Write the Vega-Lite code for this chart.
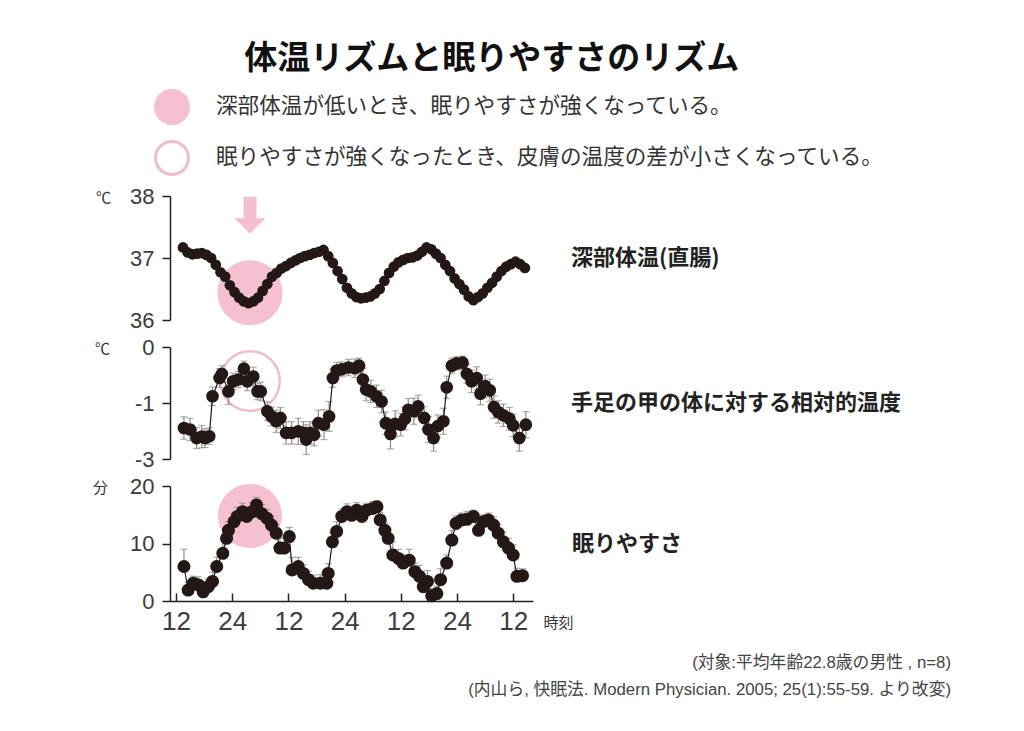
{
  "$schema": "https://vega.github.io/schema/vega-lite/v6.json",
  "background": "white",
  "padding": {"left": 92, "top": 43, "right": 10, "bottom": 10},
  "config": {
    "view": {"stroke": null},
    "font": "Noto Sans CJK JP",
    "axis": {
      "domainColor": "#222", "domainWidth": 1.5, "tickColor": "#222", "tickWidth": 1.5, "tickSize": 8,
      "labelFont": "Liberation Sans", "labelFontSize": 22, "labelColor": "#3c3c3c", "labelPadding": 8,
      "labelOverlap": false, "labelFlush": false, "labelBound": false,
      "grid": false, "titleFont": "Noto Sans CJK JP", "titleFontSize": 15, "titleFontWeight": "normal", "titleColor": "#333"
    }
  },
  "datasets": {
    "temp": [
      {"hour":13.5,"value":37.17},{"hour":14.5,"value":37.09},{"hour":15.5,"value":37.06},{"hour":16.5,"value":37.07},{"hour":17.5,"value":37.08},{"hour":18.5,"value":37.05},{"hour":19.5,"value":37.0},{"hour":20.5,"value":36.89},{"hour":21.5,"value":36.77},{"hour":22.5,"value":36.7},{"hour":23.5,"value":36.56},{"hour":24.5,"value":36.45},{"hour":25.5,"value":36.36},{"hour":26.5,"value":36.3},{"hour":27.5,"value":36.27},{"hour":28.5,"value":36.3},{"hour":29.5,"value":36.36},{"hour":30.5,"value":36.47},{"hour":31.5,"value":36.58},{"hour":32.5,"value":36.7},{"hour":33.5,"value":36.76},{"hour":34.5,"value":36.83},{"hour":35.5,"value":36.87},{"hour":36.5,"value":36.92},{"hour":37.5,"value":36.96},{"hour":38.5,"value":37.0},{"hour":39.5,"value":37.03},{"hour":40.5,"value":37.05},{"hour":41.5,"value":37.08},{"hour":42.5,"value":37.1},{"hour":43.5,"value":37.13},{"hour":44.5,"value":37.03},{"hour":45.5,"value":36.92},{"hour":46.5,"value":36.79},{"hour":47.5,"value":36.66},{"hour":48.5,"value":36.52},{"hour":49.5,"value":36.43},{"hour":50.5,"value":36.37},{"hour":51.5,"value":36.35},{"hour":52.5,"value":36.36},{"hour":53.5,"value":36.38},{"hour":54.5,"value":36.43},{"hour":55.5,"value":36.5},{"hour":56.5,"value":36.63},{"hour":57.5,"value":36.76},{"hour":58.5,"value":36.86},{"hour":59.5,"value":36.93},{"hour":60.5,"value":36.97},{"hour":61.5,"value":37.0},{"hour":62.5,"value":37.01},{"hour":63.5,"value":37.04},{"hour":64.5,"value":37.1},{"hour":65.5,"value":37.17},{"hour":66.5,"value":37.14},{"hour":67.5,"value":37.07},{"hour":68.5,"value":37.0},{"hour":69.5,"value":36.89},{"hour":70.5,"value":36.79},{"hour":71.5,"value":36.67},{"hour":72.5,"value":36.58},{"hour":73.5,"value":36.49},{"hour":74.5,"value":36.38},{"hour":75.5,"value":36.32},{"hour":76.5,"value":36.37},{"hour":77.5,"value":36.43},{"hour":78.5,"value":36.52},{"hour":79.5,"value":36.6},{"hour":80.5,"value":36.7},{"hour":81.5,"value":36.79},{"hour":82.5,"value":36.86},{"hour":83.5,"value":36.9},{"hour":84.5,"value":36.94},{"hour":85.5,"value":36.9},{"hour":86.5,"value":36.84}
    ],
    "skin": [
      {"hour":13.7,"value":-2.17,"err":0.3},{"hour":15.0,"value":-2.21,"err":0.3},{"hour":16.4,"value":-2.44,"err":0.28},{"hour":17.5,"value":-2.4,"err":0.3},{"hour":18.2,"value":-2.44,"err":0.25},{"hour":19.1,"value":-2.39,"err":0.22},{"hour":19.8,"value":-1.32,"err":0.25},{"hour":21.3,"value":-0.83,"err":0.25},{"hour":21.8,"value":-0.72,"err":0.22},{"hour":23.2,"value":-1.19,"err":0.35},{"hour":24.2,"value":-0.92,"err":0.22},{"hour":25.3,"value":-0.87,"err":0.22},{"hour":26.5,"value":-0.58,"err":0.2},{"hour":27.2,"value":-0.92,"err":0.25},{"hour":28.5,"value":-0.79,"err":0.25},{"hour":29.4,"value":-1.19,"err":0.22},{"hour":30.1,"value":-1.19,"err":0.25},{"hour":31.5,"value":-1.72,"err":0.25},{"hour":32.4,"value":-1.86,"err":0.25},{"hour":33.4,"value":-1.99,"err":0.3},{"hour":34.3,"value":-1.9,"err":0.28},{"hour":35.5,"value":-2.3,"err":0.3},{"hour":36.7,"value":-2.3,"err":0.3},{"hour":38.1,"value":-2.26,"err":0.35},{"hour":39.2,"value":-2.3,"err":0.3},{"hour":39.8,"value":-2.48,"err":0.4},{"hour":40.6,"value":-2.3,"err":0.3},{"hour":41.5,"value":-2.35,"err":0.3},{"hour":42.4,"value":-2.04,"err":0.35},{"hour":43.6,"value":-2.08,"err":0.4},{"hour":44.7,"value":-1.86,"err":0.4},{"hour":45.5,"value":-0.83,"err":0.25},{"hour":46.3,"value":-0.63,"err":0.22},{"hour":47.4,"value":-0.6,"err":0.2},{"hour":48.8,"value":-0.55,"err":0.22},{"hour":50.2,"value":-0.57,"err":0.25},{"hour":51.1,"value":-0.5,"err":0.2},{"hour":51.9,"value":-0.87,"err":0.3},{"hour":52.6,"value":-1.14,"err":0.3},{"hour":53.6,"value":-1.19,"err":0.3},{"hour":54.8,"value":-1.32,"err":0.3},{"hour":55.9,"value":-1.46,"err":0.3},{"hour":56.8,"value":-2.04,"err":0.3},{"hour":57.8,"value":-2.33,"err":0.4},{"hour":58.8,"value":-2.06,"err":0.35},{"hour":60.0,"value":-2.08,"err":0.3},{"hour":60.9,"value":-1.92,"err":0.3},{"hour":61.6,"value":-1.68,"err":0.3},{"hour":62.8,"value":-1.72,"err":0.35},{"hour":63.7,"value":-1.59,"err":0.3},{"hour":65.0,"value":-1.9,"err":0.3},{"hour":65.9,"value":-2.21,"err":0.35},{"hour":67.0,"value":-2.44,"err":0.35},{"hour":67.9,"value":-2.12,"err":0.3},{"hour":69.1,"value":-1.99,"err":0.35},{"hour":69.8,"value":-1.08,"err":0.3},{"hour":70.9,"value":-0.5,"err":0.2},{"hour":71.9,"value":-0.44,"err":0.18},{"hour":73.2,"value":-0.42,"err":0.18},{"hour":74.1,"value":-0.72,"err":0.25},{"hour":75.1,"value":-0.92,"err":0.3},{"hour":76.2,"value":-0.83,"err":0.3},{"hour":77.0,"value":-1.25,"err":0.3},{"hour":78.0,"value":-1.05,"err":0.3},{"hour":79.0,"value":-1.16,"err":0.3},{"hour":79.9,"value":-1.61,"err":0.3},{"hour":80.8,"value":-1.74,"err":0.3},{"hour":81.9,"value":-1.83,"err":0.3},{"hour":83.2,"value":-1.92,"err":0.3},{"hour":84.0,"value":-2.1,"err":0.3},{"hour":85.3,"value":-2.44,"err":0.35},{"hour":86.7,"value":-2.08,"err":0.35}
    ],
    "sleep": [
      {"hour":13.7,"value":6.0,"hi":9.0},{"hour":14.6,"value":1.9,"hi":3.2},{"hour":15.7,"value":3.1,"hi":4.3},{"hour":16.8,"value":2.8,"hi":4.2},{"hour":17.8,"value":1.6,"hi":2.8},{"hour":18.9,"value":2.5,"hi":3.8},{"hour":19.8,"value":3.4,"hi":5.0},{"hour":20.7,"value":6.0,"hi":7.6},{"hour":22.0,"value":8.3,"hi":10.6},{"hour":22.8,"value":10.9,"hi":12.5},{"hour":23.2,"value":12.3,"hi":13.8},{"hour":24.4,"value":13.8,"hi":15.3},{"hour":25.1,"value":14.7,"hi":16.3},{"hour":26.2,"value":15.5,"hi":17.0},{"hour":27.1,"value":14.7,"hi":16.4},{"hour":28.2,"value":15.5,"hi":17.1},{"hour":29.2,"value":16.7,"hi":18.0},{"hour":30.3,"value":15.2,"hi":16.8},{"hour":31.4,"value":14.4,"hi":15.9},{"hour":32.4,"value":13.2,"hi":14.8},{"hour":33.4,"value":11.8,"hi":13.2},{"hour":34.2,"value":9.2,"hi":11.0},{"hour":35.1,"value":9.2,"hi":10.9},{"hour":36.2,"value":11.2,"hi":12.8},{"hour":36.8,"value":5.4,"hi":7.6},{"hour":38.1,"value":6.0,"hi":7.6},{"hour":39.2,"value":4.8,"hi":6.3},{"hour":40.3,"value":3.7,"hi":5.2},{"hour":41.3,"value":3.1,"hi":4.5},{"hour":42.8,"value":3.1,"hi":4.6},{"hour":44.2,"value":3.1,"hi":4.5},{"hour":44.5,"value":4.8,"hi":6.5},{"hour":45.4,"value":10.3,"hi":11.8},{"hour":46.3,"value":12.1,"hi":13.8},{"hour":47.4,"value":14.7,"hi":16.0},{"hour":48.5,"value":15.5,"hi":16.9},{"hour":49.5,"value":14.9,"hi":16.5},{"hour":50.6,"value":15.8,"hi":17.1},{"hour":51.7,"value":14.7,"hi":16.1},{"hour":52.7,"value":15.8,"hi":17.0},{"hour":54.0,"value":16.1,"hi":17.3},{"hour":54.9,"value":16.4,"hi":17.4},{"hour":55.6,"value":14.1,"hi":15.4},{"hour":56.6,"value":12.3,"hi":13.6},{"hour":57.3,"value":10.9,"hi":12.5},{"hour":58.3,"value":8.0,"hi":10.3},{"hour":59.5,"value":7.4,"hi":9.0},{"hour":60.5,"value":6.6,"hi":8.0},{"hour":61.8,"value":7.1,"hi":9.0},{"hour":63.0,"value":5.1,"hi":6.6},{"hour":64.0,"value":4.3,"hi":6.2},{"hour":64.8,"value":2.5,"hi":3.8},{"hour":65.7,"value":3.4,"hi":5.3},{"hour":66.6,"value":0.9,"hi":2.2},{"hour":67.7,"value":1.3,"hi":2.6},{"hour":68.5,"value":3.7,"hi":5.6},{"hour":69.8,"value":6.6,"hi":8.0},{"hour":70.9,"value":10.6,"hi":12.3},{"hour":71.8,"value":13.5,"hi":14.8},{"hour":73.0,"value":14.1,"hi":15.3},{"hour":74.1,"value":14.2,"hi":15.6},{"hour":75.5,"value":14.7,"hi":15.8},{"hour":76.6,"value":12.3,"hi":13.6},{"hour":77.6,"value":13.8,"hi":15.0},{"hour":78.7,"value":14.1,"hi":15.3},{"hour":79.8,"value":13.2,"hi":14.6},{"hour":80.8,"value":11.8,"hi":13.2},{"hour":81.9,"value":10.3,"hi":12.0},{"hour":83.0,"value":9.2,"hi":10.9},{"hour":84.0,"value":8.0,"hi":9.8},{"hour":84.8,"value":4.3,"hi":5.7},{"hour":86.0,"value":4.4,"hi":5.6}
    ],
    "hiTemp": [{"hour": 27.8, "value": 36.44, "kind": "深部体温が低いとき、眠りやすさが強くなっている。"}],
    "hiSkin": [{"hour": 27.8, "value": -0.91, "kind": "眠りやすさが強くなったとき、皮膚の温度の差が小さくなっている。"}],
    "hiSleep": [{"hour": 27.8, "value": 14.8, "kind": "深部体温が低いとき、眠りやすさが強くなっている。"}],
    "arrow": [{"hour": 27.8, "value": 37.69}]
  },
  "title": {"text": "体温リズムと眠りやすさのリズム", "fontSize": 33, "fontWeight": "bold", "font": "Noto Sans CJK JP", "color": "#111", "anchor": "middle", "offset": 13, "dx": -30},
  "vconcat": [
    {
      "spacing": 5,
      "title": {"text": ["(対象:平均年齢22.8歳の男性 , n=8)", "(内山ら, 快眠法. Modern Physician. 2005; 25(1):55-59. より改変)"], "orient": "bottom", "anchor": "end", "fontSize": 16.8, "fontWeight": "normal", "font": "Liberation Sans, Noto Sans CJK JP", "color": "#444", "lineHeight": 27, "offset": 21, "dx": 50},
      "resolve": {"scale": {"fill": "shared", "stroke": "shared"}, "legend": {"fill": "shared", "stroke": "shared"}},
      "vconcat": [
        {
          "width": 363, "height": 124,
          "title": {"text": "深部体温(直腸)", "orient": "right", "angle": 0, "align": "right", "baseline": "middle", "anchor": "middle", "frame": "group", "offset": 38, "fontSize": 22, "fontWeight": "bold", "color": "#222", "font": "Noto Sans CJK JP"},
          "encoding": {
            "x": {"field": "hour", "type": "quantitative", "scale": {"domain": [10.72, 88.23], "nice": false, "zero": false}, "axis": null},
            "y": {"field": "value", "type": "quantitative", "scale": {"domain": [36, 38], "nice": false, "zero": false}, "axis": {"values": [36, 37, 38], "labelExpr": "datum.value == 36 ? '36' : (datum.value == 37 ? '37' : '38')", "title": "℃", "titleAngle": 0, "titleX": -67, "titleY": 1, "titleAlign": "center", "titleBaseline": "middle"}}
          },
          "layer": [
            {"data": {"name": "hiTemp"}, "mark": {"type": "point", "shape": "circle", "filled": true, "size": 3969, "strokeWidth": 2, "opacity": 1},
             "encoding": {
               "fill": {"field": "kind", "type": "nominal", "scale": {"domain": ["深部体温が低いとき、眠りやすさが強くなっている。", "眠りやすさが強くなったとき、皮膚の温度の差が小さくなっている。"], "range": ["#f4c0d2", "#ffffff"]},
                 "legend": {"title": null, "orient": "none", "legendX": -16, "legendY": -107, "direction": "vertical", "symbolType": "circle", "symbolSize": 1089, "symbolStrokeWidth": 3, "labelFontSize": 21.6, "labelFont": "Noto Sans CJK JP", "labelColor": "#333", "labelLimit": 900, "labelOffset": 26, "rowPadding": 5, "padding": 0}},
               "stroke": {"field": "kind", "type": "nominal", "scale": {"domain": ["深部体温が低いとき、眠りやすさが強くなっている。", "眠りやすさが強くなったとき、皮膚の温度の差が小さくなっている。"], "range": ["#f4c0d2", "#efbdd0"]},
                 "legend": {"title": null, "orient": "none", "legendX": -16, "legendY": -107, "direction": "vertical", "symbolType": "circle", "symbolSize": 1089, "symbolStrokeWidth": 3, "labelFontSize": 21.6, "labelFont": "Noto Sans CJK JP", "labelColor": "#333", "labelLimit": 900, "labelOffset": 26, "rowPadding": 5, "padding": 0}}
             }},
            {"data": {"name": "arrow"}, "mark": {"type": "point", "shape": "M-0.35,-1L0.35,-1L0.35,0.16L0.84,0.16L0,1L-0.84,0.16L-0.35,0.16Z", "size": 1369, "filled": true, "color": "#f4bfd1", "opacity": 1, "strokeWidth": 0}, "encoding": {}},
            {"data": {"name": "temp"}, "mark": {"type": "line", "color": "#231815", "strokeWidth": 1.5}, "encoding": {}},
            {"data": {"name": "temp"}, "mark": {"type": "point", "filled": true, "size": 115, "color": "#231815", "opacity": 1}, "encoding": {}}
          ]
        },
        {
          "width": 363, "height": 112,
          "title": {"text": "手足の甲の体に対する相対的温度", "orient": "right", "angle": 0, "align": "right", "baseline": "middle", "anchor": "middle", "frame": "group", "offset": 38, "fontSize": 22, "fontWeight": "bold", "color": "#222", "font": "Noto Sans CJK JP"},
          "encoding": {
            "x": {"field": "hour", "type": "quantitative", "scale": {"domain": [10.72, 88.23], "nice": false, "zero": false}, "axis": null},
            "y": {"field": "value", "type": "quantitative", "scale": {"domain": [-3, 0], "nice": false, "zero": false}, "axis": {"values": [-3, -1.5, 0], "labelExpr": "datum.value == 0 ? '0' : (datum.value == -3 ? '-3' : '-1')", "title": "℃", "titleAngle": 0, "titleX": -68, "titleY": 1, "titleAlign": "center", "titleBaseline": "middle"}}
          },
          "layer": [
            {"data": {"name": "hiSkin"}, "mark": {"type": "point", "shape": "circle", "filled": true, "size": 3540, "strokeWidth": 2.5, "opacity": 1},
             "encoding": {
               "fill": {"field": "kind", "type": "nominal", "scale": {"domain": ["深部体温が低いとき、眠りやすさが強くなっている。", "眠りやすさが強くなったとき、皮膚の温度の差が小さくなっている。"], "range": ["#f4c0d2", "#ffffff"]},
                 "legend": {"title": null, "orient": "none", "legendX": -16, "legendY": -107, "direction": "vertical", "symbolType": "circle", "symbolSize": 1089, "symbolStrokeWidth": 3, "labelFontSize": 21.6, "labelFont": "Noto Sans CJK JP", "labelColor": "#333", "labelLimit": 900, "labelOffset": 26, "rowPadding": 5, "padding": 0}},
               "stroke": {"field": "kind", "type": "nominal", "scale": {"domain": ["深部体温が低いとき、眠りやすさが強くなっている。", "眠りやすさが強くなったとき、皮膚の温度の差が小さくなっている。"], "range": ["#f4c0d2", "#efbdd0"]},
                 "legend": {"title": null, "orient": "none", "legendX": -16, "legendY": -107, "direction": "vertical", "symbolType": "circle", "symbolSize": 1089, "symbolStrokeWidth": 3, "labelFontSize": 21.6, "labelFont": "Noto Sans CJK JP", "labelColor": "#333", "labelLimit": 900, "labelOffset": 26, "rowPadding": 5, "padding": 0}}
             }},
            {"data": {"name": "skin"}, "mark": {"type": "errorbar", "ticks": true, "size": 7, "thickness": 1.2, "color": "#8c8c8c"}, "encoding": {"yError": {"field": "err"}}},
            {"data": {"name": "skin"}, "mark": {"type": "line", "color": "#231815", "strokeWidth": 1.2}, "encoding": {}},
            {"data": {"name": "skin"}, "mark": {"type": "point", "filled": true, "size": 160, "color": "#231815", "opacity": 1}, "encoding": {}}
          ]
        },
        {
          "width": 363, "height": 115,
          "title": {"text": "眠りやすさ", "orient": "right", "angle": 0, "align": "right", "baseline": "middle", "anchor": "middle", "frame": "group", "offset": -1, "fontSize": 22, "fontWeight": "bold", "color": "#222", "font": "Noto Sans CJK JP"},
          "encoding": {
            "x": {"field": "hour", "type": "quantitative", "scale": {"domain": [10.72, 88.23], "nice": false, "zero": false},
              "axis": {"values": [12, 24, 36, 48, 60, 72, 84], "labelExpr": "datum.value % 24 == 0 ? '24' : '12'", "labelFontSize": 26, "tickSize": -8, "labelPadding": 15,
                "title": "時刻", "titleAngle": 0, "titleX": 373, "titleY": 21, "titleAlign": "left", "titleBaseline": "middle", "titleFontSize": 15}},
            "y": {"field": "value", "type": "quantitative", "scale": {"domain": [0, 20], "nice": false, "zero": false}, "axis": {"values": [0, 10, 20], "labelExpr": "datum.value == 0 ? '0' : (datum.value == 10 ? '10' : '20')", "title": "分", "titleAngle": 0, "titleX": -70, "titleY": 1, "titleAlign": "center", "titleBaseline": "middle"}}
          },
          "layer": [
            {"data": {"name": "hiSleep"}, "mark": {"type": "point", "shape": "circle", "filled": true, "size": 3844, "strokeWidth": 2, "opacity": 1},
             "encoding": {
               "fill": {"field": "kind", "type": "nominal", "scale": {"domain": ["深部体温が低いとき、眠りやすさが強くなっている。", "眠りやすさが強くなったとき、皮膚の温度の差が小さくなっている。"], "range": ["#f4c0d2", "#ffffff"]},
                 "legend": {"title": null, "orient": "none", "legendX": -16, "legendY": -107, "direction": "vertical", "symbolType": "circle", "symbolSize": 1089, "symbolStrokeWidth": 3, "labelFontSize": 21.6, "labelFont": "Noto Sans CJK JP", "labelColor": "#333", "labelLimit": 900, "labelOffset": 26, "rowPadding": 5, "padding": 0}},
               "stroke": {"field": "kind", "type": "nominal", "scale": {"domain": ["深部体温が低いとき、眠りやすさが強くなっている。", "眠りやすさが強くなったとき、皮膚の温度の差が小さくなっている。"], "range": ["#f4c0d2", "#efbdd0"]},
                 "legend": {"title": null, "orient": "none", "legendX": -16, "legendY": -107, "direction": "vertical", "symbolType": "circle", "symbolSize": 1089, "symbolStrokeWidth": 3, "labelFontSize": 21.6, "labelFont": "Noto Sans CJK JP", "labelColor": "#333", "labelLimit": 900, "labelOffset": 26, "rowPadding": 5, "padding": 0}}
             }},
            {"data": {"name": "sleep"}, "mark": {"type": "errorbar", "ticks": true, "size": 7, "thickness": 1.2, "color": "#8c8c8c"}, "encoding": {"y2": {"field": "hi"}}},
            {"data": {"name": "sleep"}, "mark": {"type": "line", "color": "#231815", "strokeWidth": 1.2}, "encoding": {}},
            {"data": {"name": "sleep"}, "mark": {"type": "point", "filled": true, "size": 170, "color": "#231815", "opacity": 1}, "encoding": {}}
          ]
        }
      ]
    }
  ]
}
